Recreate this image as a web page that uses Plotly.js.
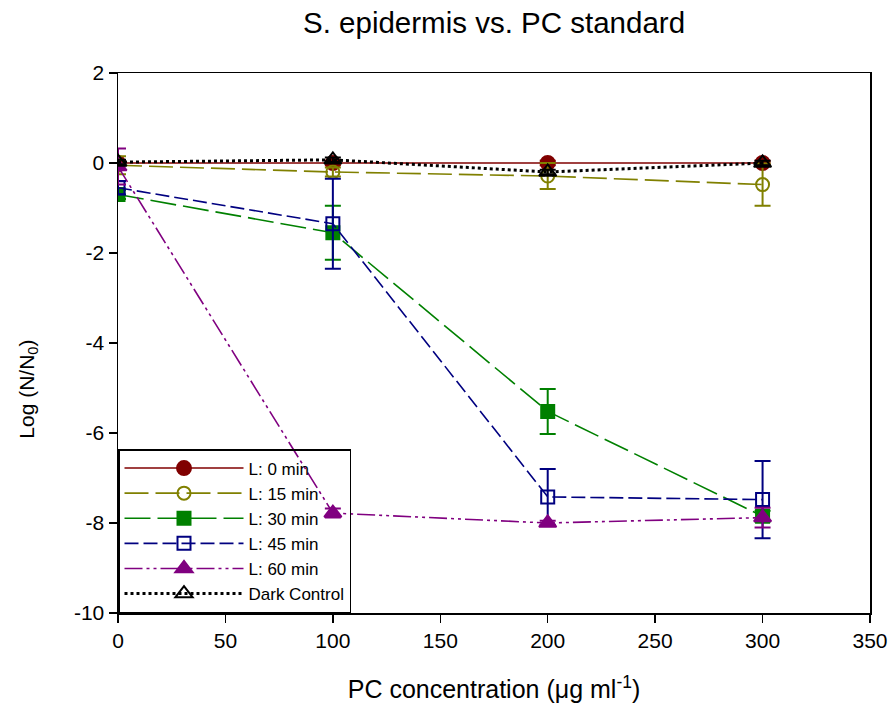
<!DOCTYPE html>
<html>
<head>
<meta charset="utf-8">
<script src="https://cdn.plot.ly/plotly-3.0.1.min.js"></script>
<style>html,body{margin:0;padding:0;background:#fff;}#chart{width:895px;height:716px;}</style>
</head>
<body>
<div id="chart"></div>
<script>
const conc = [0, 100, 200, 300];
const seriesNames = ["L: 0 min", "L: 15 min", "L: 30 min", "L: 45 min", "L: 60 min", "Dark Control"];
const L0 = [0.0, 0.0, 0.0, 0.0];
const L0err = [0.05, 0.05, 0.05, 0.05];
const L15 = [-0.05, -0.2, -0.29, -0.48];
const L15err = [0.2, 0.1, 0.29, 0.47];
const L30 = [-0.7, -1.55, -5.52, -7.85];
const L30err = [0.1, 0.6, 0.5, 0.12];
const L45 = [-0.55, -1.35, -7.42, -7.48];
const L45err = [0.15, 1.0, 0.62, 0.86];
const L60 = [-0.08, -7.78, -8.0, -7.88];
const L60err = [0.4, 0.1, 0.05, 0.22];
const dark = [0.02, 0.07, -0.2, 0.0];
const darkErr = [0.05, 0.05, 0.05, 0.05];
const xTickVals = [0, 50, 100, 150, 200, 250, 300, 350];
const xTickText = ["0", "50", "100", "150", "200", "250", "300", "350"];
const yTickVals = [-10, -8, -6, -4, -2, 0, 2];
const yTickText = ["-10", "-8", "-6", "-4", "-2", "0", "2"];

function tr(name, y, err, color, dash, symbol, msize, mfill, lw){
  return {
    x: conc, y: y, name: name, type: 'scatter', mode: 'lines+markers',
    line: {color: color, width: lw || 1.6, dash: dash},
    marker: {symbol: symbol, size: msize, color: mfill,
             line: {color: color, width: 2}},
    error_y: {type: 'data', array: err, visible: true, color: color, thickness: 2, width: 8}
  };
}
const data = [
  tr(seriesNames[0], L0, L0err, '#800000', 'solid', 'circle', 14, '#800000'),
  tr(seriesNames[1], L15, L15err, '#808000', '24px,7px', 'circle-open', 13, '#808000'),
  tr(seriesNames[2], L30, L30err, '#008000', '26px,7px', 'square', 13, '#008000'),
  tr(seriesNames[3], L45, L45err, '#000080', '14px,5px', 'square-open', 13, '#000080'),
  tr(seriesNames[4], L60, L60err, '#800080', '18px,4px,3px,4px,3px,4px', 'triangle-up', 15, '#800080'),
  tr(seriesNames[5], dark, darkErr, '#000000', '3px,3px', 'triangle-up-open', 15, '#000000', 3)
];
const layout = {
  width: 895, height: 716,
  margin: {l: 118, r: 25, t: 73, b: 103},
  paper_bgcolor: '#fff', plot_bgcolor: '#fff',
  font: {family: 'Arial, Liberation Sans, sans-serif', color: '#000', size: 21},
  title: {text: 'S. epidermis vs. PC standard', font: {size: 29.5}, x: 0.552, xanchor: 'center', y: 0.969, yanchor: 'middle', yref: 'container'},
  showlegend: true,
  legend: {x: 0, y: 0, xanchor: 'left', yanchor: 'bottom', bgcolor: 'rgba(255,255,255,0)',
    bordercolor: '#000', borderwidth: 1.5, font: {size: 17}, itemwidth: 119,
    tracegroupgap: 0},
  xaxis: {range: [0, 350], tickmode: 'array', tickvals: xTickVals, ticktext: xTickText,
    ticks: 'outside', ticklen: 8, tickwidth: 1.5, tickcolor: '#000',
    showline: true, linecolor: '#000', linewidth: 1.5, mirror: true,
    showgrid: false, zeroline: false,
    title: {text: 'PC concentration (\u03bcg ml<sup>-1</sup>)', font: {size: 25}, standoff: 30}},
  yaxis: {range: [-10, 2], tickmode: 'array', tickvals: yTickVals, ticktext: yTickText,
    ticks: 'outside', ticklen: 8, tickwidth: 1.5, tickcolor: '#000',
    showline: true, linecolor: '#000', linewidth: 1.5, mirror: true,
    showgrid: false, zeroline: false},
  annotations: [{text: 'Log (N/N<sub>0</sub>)', xref: 'paper', yref: 'paper',
    x: -0.12, y: 0.415, xanchor: 'center', yanchor: 'middle', textangle: -90,
    showarrow: false, font: {size: 21}}]
};
Plotly.newPlot('chart', data, layout, {displayModeBar: false, staticPlot: true});
</script>
</body>
</html>
